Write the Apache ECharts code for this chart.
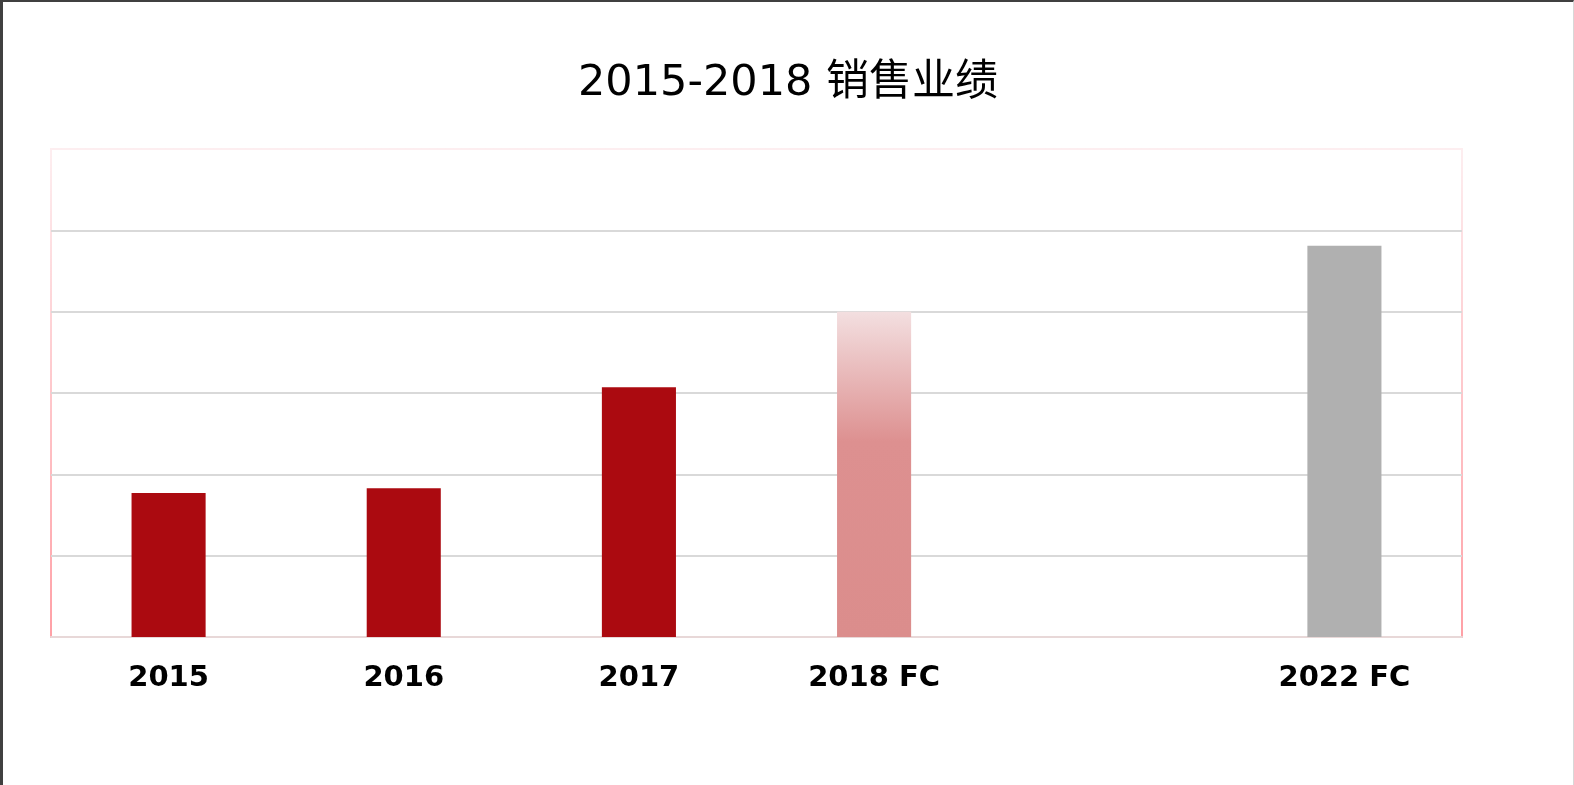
<!DOCTYPE html>
<html>
<head>
<meta charset="utf-8">
<script src="https://cdn.jsdelivr.net/npm/echarts@6/dist/echarts.min.js"></script>
<style>
  html, body { margin: 0; padding: 0; background: #fff; }
  #frame {
    position: absolute; left: 0; top: 0; width: 1570px; height: 783px;
    border-left: 3px solid #404040; border-top: 2px solid #404040; border-right: 1px solid #d8d8d8;
  }
  #chart { width: 1570px; height: 783px; }
</style>
</head>
<body>
<div id="frame"><div id="chart"></div></div>
<script>
const categories = ['2015', '2016', '2017', '2018 FC', '', '2022 FC']
const actual = [1.77, 1.83, 3.07, null, null, null]
const forecast2018 = [null, null, null, 4.0, null, null]
const forecast2022 = [null, null, null, null, null, 4.81]

let myChart = echarts.init(document.getElementById('chart'))
myChart.setOption({
  animation: false,
  title: {
    text: '2015-2018 销售业绩',
    left: 'center',
    top: 55,
    textStyle: {
      fontFamily: 'DejaVu Sans, Noto Sans CJK SC',
      fontSize: 43,
      fontWeight: 'normal',
      color: '#000'
    }
  },
  grid: {
    left: 48, right: 111, top: 147, bottom: 148,
    show: true,
    borderWidth: 2,
    borderColor: new echarts.graphic.LinearGradient(0, 0, 0, 1, [
      {offset: 0, color: '#fdeef0'},
      {offset: 1, color: '#ffa0a6'}
    ])
  },
  xAxis: {
    type: 'category',
    data: categories,
    axisTick: {show: false},
    axisLine: {lineStyle: {color: '#e8d8d8', width: 2}},
    axisLabel: {
      margin: 27,
      fontFamily: 'DejaVu Sans',
      fontWeight: 'bold',
      fontSize: 29,
      color: '#000'
    }
  },
  yAxis: {
    type: 'value',
    min: 0, max: 6, interval: 1,
    axisLabel: {show: false},
    axisLine: {show: false},
    axisTick: {show: false},
    splitLine: {lineStyle: {
      color: ['transparent', '#d9d9d9', '#d9d9d9', '#d9d9d9', '#d9d9d9', '#d9d9d9', 'transparent'],
      width: 2
    }}
  },
  series: [
    {
      name: 'actual', type: 'bar', stack: 'a', barWidth: '31.5%',
      data: actual,
      itemStyle: {color: '#ab0a10'}
    },
    {
      name: '2018 FC', type: 'bar', stack: 'a',
      data: forecast2018,
      itemStyle: {
        color: new echarts.graphic.LinearGradient(0, 0, 0, 1, [
          {offset: 0, color: '#f3dfe0'},
          {offset: 0.4, color: '#dd9090'},
          {offset: 1, color: '#db8d8c'}
        ])
      }
    },
    {
      name: '2022 FC', type: 'bar', stack: 'a',
      data: forecast2022,
      itemStyle: {color: '#b0b0b0'}
    }
  ]
})
</script>
</body>
</html>
